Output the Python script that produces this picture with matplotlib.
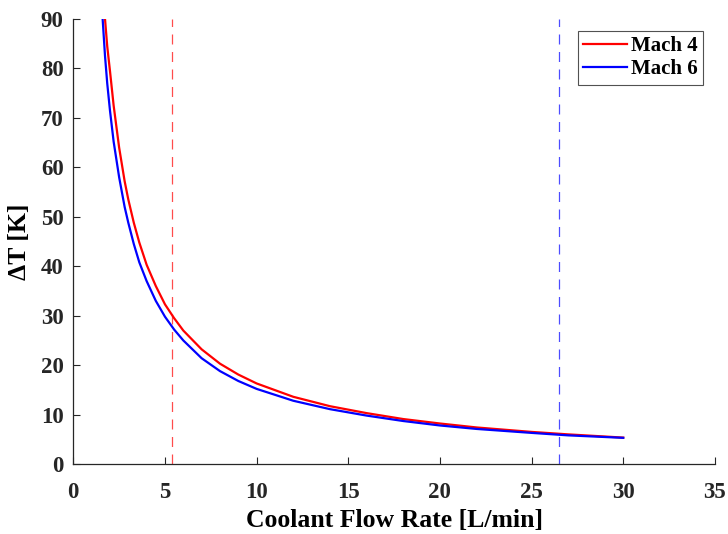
import matplotlib as mpl
import matplotlib.pyplot as plt

mpl.rcParams.update(
    {
        "font.family": "serif",
        "font.serif": ["Liberation Serif", "DejaVu Serif"],
        "font.weight": "bold",
        "axes.labelweight": "bold",
        "axes.linewidth": 0.9,
        "axes.edgecolor": "#262626",
        "xtick.color": "#262626",
        "ytick.color": "#262626",
        "xtick.direction": "in",
        "ytick.direction": "in",
        "xtick.major.size": 5,
        "ytick.major.size": 5,
    }
)

# values
flow = [1.5, 1.6, 1.73, 1.85, 2.0, 2.2, 2.5, 2.8, 3.0, 3.3, 3.6, 4.0, 4.5, 5.0,
        5.5, 6.0, 7.0, 8.0, 9.0, 10.0, 12.0, 14.0, 16.0, 18.0, 20.0, 22.0,
        25.0, 27.0, 30.0]
dT_mach4 = [104.0, 97.5, 90.0, 84.5, 79.5, 72.5, 64.0, 57.2, 53.5, 48.8, 44.8,
            40.3, 36.0, 32.3, 29.5, 27.0, 23.2, 20.3, 18.1, 16.3, 13.6, 11.7,
            10.3, 9.1, 8.2, 7.4, 6.5, 6.0, 5.35]
dT_mach6 = [95.0, 90.0, 82.5, 77.0, 71.5, 65.2, 58.0, 52.0, 48.8, 44.5, 40.8,
            37.0, 33.0, 29.8, 27.2, 25.0, 21.4, 18.8, 16.8, 15.2, 12.8, 11.1,
            9.8, 8.7, 7.8, 7.1, 6.3, 5.8, 5.3]
design_flow = {"Mach 4": 5.4, "Mach 6": 26.5}

fig = plt.figure(figsize=(7.28, 5.34), dpi=100)
ax = fig.add_axes([0.1007, 0.131, 0.8813, 0.8334])

ax.plot(flow, dT_mach4, color="#ff0000", lw=1.6, label="Mach 4")
ax.plot(flow, dT_mach6, color="#0000ff", lw=1.6, label="Mach 6")
ax.axvline(design_flow["Mach 4"], color="#ff0000", lw=0.9, ls=(0, (8, 6)), alpha=0.7)
ax.axvline(design_flow["Mach 6"], color="#0000ff", lw=0.9, ls=(0, (8, 6)), alpha=0.7)

ax.set_xlim(0, 35)
ax.set_ylim(0, 90)
ax.set_xticks(range(0, 36, 5))
ax.set_yticks(range(0, 91, 10))
ax.tick_params(labelsize=16.5)
ax.tick_params(axis="x", pad=13)
ax.tick_params(axis="y", pad=7)
ax.spines["top"].set_visible(False)
ax.spines["right"].set_visible(False)
ax.set_xlabel("Coolant Flow Rate [L/min]", fontsize=18.5, labelpad=4)
ax.set_ylabel("\u0394T [K]", fontsize=18.5, labelpad=7)

leg = ax.legend(loc="upper right", bbox_to_anchor=(0.981, 0.973), fontsize=15,
                frameon=True, fancybox=False, handlelength=2.1, handletextpad=0.2,
                borderpad=0.25, labelspacing=0.15, borderaxespad=0.0)
leg.get_frame().set_edgecolor("#262626")
leg.get_frame().set_linewidth(0.8)

fig.savefig("out.png", dpi=100)
